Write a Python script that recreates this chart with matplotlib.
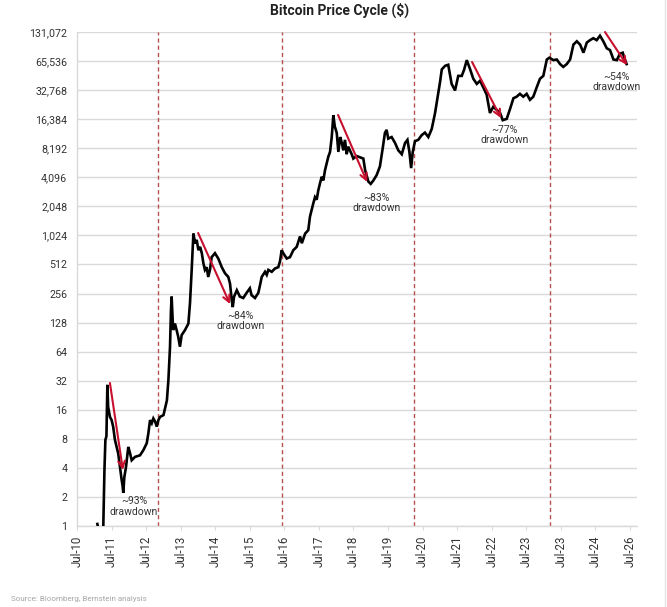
import matplotlib.pyplot as plt
import matplotlib.lines as mlines
from matplotlib.ticker import NullLocator
import pandas as pd

plt.rcParams["font.family"] = ["Roboto", "DejaVu Sans"]

# Bitcoin price ($)
price_dates = [
    "2011-02-01", "2011-02-20", "2011-03-25", "2011-04-05", "2011-04-17",
    "2011-04-27", "2011-05-08", "2011-05-18", "2011-05-26", "2011-06-14",
    "2011-07-02", "2011-07-18", "2011-08-06", "2011-08-24", "2011-09-10",
    "2011-09-28", "2011-10-16", "2011-10-26", "2011-11-02", "2011-11-13",
    "2011-12-01", "2011-12-25", "2012-01-12", "2012-01-30", "2012-03-05",
    "2012-04-27", "2012-06-01", "2012-07-07", "2012-07-24", "2012-08-11",
    "2012-08-29", "2012-09-15", "2012-10-03", "2012-10-21", "2012-11-07",
    "2012-11-25", "2012-12-31", "2013-02-05", "2013-02-21", "2013-03-10",
    "2013-03-20", "2013-03-27", "2013-04-07", "2013-04-13", "2013-05-01",
    "2013-05-19", "2013-06-05", "2013-06-23", "2013-07-11", "2013-08-15",
    "2013-09-20", "2013-10-07", "2013-10-25", "2013-11-12", "2013-11-30",
    "2013-12-17", "2014-01-04", "2014-01-22", "2014-02-09", "2014-02-26",
    "2014-03-14", "2014-04-01", "2014-04-18", "2014-05-06", "2014-05-24",
    "2014-06-28", "2014-08-02", "2014-09-08", "2014-10-12", "2014-11-16",
    "2014-12-04", "2014-12-22", "2015-01-02", "2015-01-16", "2015-02-14",
    "2015-03-18", "2015-04-23", "2015-05-28", "2015-07-02", "2015-07-20",
    "2015-08-25", "2015-09-29", "2015-10-17", "2015-11-04", "2015-12-09",
    "2015-12-27", "2016-01-13", "2016-02-18", "2016-03-23", "2016-04-27",
    "2016-05-15", "2016-06-02", "2016-06-19", "2016-07-25", "2016-08-29",
    "2016-10-03", "2016-11-08", "2016-12-13", "2017-01-01", "2017-02-05",
    "2017-03-10", "2017-03-28", "2017-05-02", "2017-05-20", "2017-06-07",
    "2017-06-24", "2017-07-12", "2017-07-30", "2017-08-16", "2017-09-03",
    "2017-09-21", "2017-10-08", "2017-10-26", "2017-11-13", "2017-11-30",
    "2017-12-15", "2018-01-05", "2018-01-22", "2018-02-10", "2018-02-28",
    "2018-03-15", "2018-04-02", "2018-04-20", "2018-05-06", "2018-06-12",
    "2018-06-29", "2018-08-04", "2018-09-08", "2018-10-13", "2018-11-01",
    "2018-12-05", "2018-12-30", "2019-01-27", "2019-03-02", "2019-04-06",
    "2019-05-05", "2019-05-29", "2019-06-16", "2019-07-03", "2019-08-08",
    "2019-09-13", "2019-10-17", "2019-11-23", "2019-12-28", "2020-01-22",
    "2020-02-12", "2020-03-01", "2020-03-18", "2020-04-11", "2020-05-15",
    "2020-06-21", "2020-07-25", "2020-08-30", "2020-10-05", "2020-11-09",
    "2020-12-14", "2021-01-01", "2021-01-19", "2021-02-23", "2021-03-28",
    "2021-05-03", "2021-06-08", "2021-07-12", "2021-08-18", "2021-09-11",
    "2021-10-10", "2021-11-14", "2021-12-18", "2022-01-24", "2022-02-28",
    "2022-04-02", "2022-05-08", "2022-06-12", "2022-07-17", "2022-08-22",
    "2022-09-27", "2022-10-25", "2022-12-06", "2023-01-11", "2023-02-15",
    "2023-03-21", "2023-04-25", "2023-05-30", "2023-07-05", "2023-08-09",
    "2023-09-13", "2023-10-19", "2023-11-23", "2023-12-28", "2024-02-03",
    "2024-03-01", "2024-04-12", "2024-05-18", "2024-06-22", "2024-07-26",
    "2024-09-01", "2024-10-06", "2024-11-10", "2024-12-16", "2025-01-20",
    "2025-02-24", "2025-04-01", "2025-05-05", "2025-06-08", "2025-07-14",
    "2025-08-18", "2025-09-22", "2025-10-28", "2025-12-02", "2026-01-07",
    "2026-02-12", "2026-03-16", "2026-04-15", "2026-05-08", "2026-05-26",
]
price_values = [
    1.05, 0.85, 0.8, 1.0, 3.8,
    7.8, 8.5, 29, 17.2, 13.5,
    12.5, 10.7, 7.8, 6.6, 5.6,
    4.1, 3.0, 2.6, 2.2, 3.2,
    4.1, 6.6, 5.7, 4.8, 5.2,
    5.4, 6.1, 7.2, 9.1, 12.5,
    11.6, 13, 12.1, 10.7, 12.5,
    13.5, 14.1, 20, 32.6, 72,
    172, 238, 136, 107, 125,
    107, 91, 72, 95, 107,
    125, 203, 450, 1070, 846,
    920, 720, 780, 670, 525,
    450, 480, 380, 450, 610,
    670, 590, 480, 415, 380,
    325, 220, 185, 238, 277,
    238, 230, 260, 290, 246,
    230, 260, 312, 380, 430,
    400, 450, 430, 465, 480,
    550, 720, 670, 590, 610,
    720, 780, 1000, 850, 1070,
    1160, 1600, 2200, 2550, 2400,
    3000, 3550, 4150, 3800, 4850,
    5700, 6700, 7500, 10700, 18000,
    13800, 11800, 7500, 10700, 9300,
    7800, 10000, 7100, 8500, 7100,
    6400, 6800, 6600, 6400, 4850,
    3700, 3500, 3800, 4300, 5300,
    8100, 11800, 12700, 10300, 10700,
    9300, 7800, 7100, 9300, 10000,
    7500, 5100, 7500, 9700, 10000,
    11200, 11900, 10700, 13000, 19000,
    31000, 40000, 53700, 58500, 60000,
    38000, 32500, 46000, 46000, 53000,
    67000, 54000, 43000, 38000, 41000,
    35000, 29500, 19000, 22000, 20500,
    19000, 16000, 16500, 21000, 27000,
    28000, 30000, 28000, 30000, 26000,
    28000, 35000, 43000, 46000, 68000,
    71000, 67000, 68000, 61000, 57000,
    61000, 68000, 97000, 105000, 97000,
    80000, 102000, 108000, 113000, 108000,
    120000, 105000, 89000, 85000, 68000,
    67000, 78000, 80000, 68000, 61000,
]

# halving dates (dashed lines)
halving_dates = ["2012-11-03", "2016-06-05", "2020-04-01", "2024-03-07"]

# drawdown arrows: peak -> trough
peak_dates = ["2011-06-14", "2014-01-01", "2018-01-19", "2021-12-05", "2025-10-10"]
peak_values = [30.3, 1085, 18100, 64100, 131000]
low_dates = ["2011-10-29", "2014-12-04", "2018-11-22", "2022-10-07", "2026-05-30"]
low_values = [3.8, 199, 3660, 16800, 59500]
drawdown_labels = ["~93%\ndrawdown", "~84%\ndrawdown", "~83%\ndrawdown",
                   "~77%\ndrawdown", "~54%\ndrawdown"]
label_dates = ["2012-02-24", "2015-03-28", "2019-03-06", "2022-11-09", "2026-02-06"]
label_values = [2.04, 169, 2820, 14250, 50400]

tick_dates = [f"{y}-07-01" for y in range(2010, 2027)]
tick_labels = ["Jul-10", "Jul-11", "Jul-12", "Jul-13", "Jul-14", "Jul-15",
               "Jul-16", "Jul-17", "Jul-18", "Jul-19", "Jul-20", "Jul-21",
               "Jul-22", "Jul-23", "Jul-23", "Jul-24", "Jul-26"]
y_ticks = [2 ** i for i in range(18)]

red = "#c8102e"
grid_grey = "#d9d9d9"
text_grey = "#333333"

fig = plt.figure(figsize=(6.67, 6.07), dpi=100)
ax = fig.add_axes([77 / 667, 81 / 607, 560 / 667, 494 / 607])

ax.plot(pd.to_datetime(price_dates), price_values, color="black", lw=1.9,
        solid_joinstyle="miter", zorder=3)

for d in halving_dates:
    ax.axvline(pd.Timestamp(d), color="#b5524c", lw=1.0, ls=(0, (3, 2.2)), zorder=2)

for i in range(len(peak_dates)):
    ax.annotate(
        "",
        xy=(pd.Timestamp(low_dates[i]), low_values[i]),
        xytext=(pd.Timestamp(peak_dates[i]), peak_values[i]),
        arrowprops=dict(arrowstyle="->", color=red, lw=1.5,
                        mutation_scale=12, shrinkA=0, shrinkB=0),
        annotation_clip=False,
        zorder=4,
    )
    ax.text(pd.Timestamp(label_dates[i]), label_values[i], drawdown_labels[i],
            ha="center", va="top", fontsize=7.5, color=text_grey,
            linespacing=1.05, zorder=5)

ax.set_yscale("log", base=2)
ax.set_ylim(1, 131072)
ax.set_yticks(y_ticks)
ax.set_yticklabels([f"{v:,}" for v in y_ticks])
ax.yaxis.set_minor_locator(NullLocator())

ax.set_xlim(pd.Timestamp("2010-07-01"), pd.Timestamp("2026-09-13"))
ax.set_xticks(pd.to_datetime(tick_dates))
ax.set_xticklabels(tick_labels, rotation=90)

ax.grid(axis="y", color=grid_grey, lw=1.0)
ax.grid(axis="x", visible=False)
ax.set_axisbelow(True)
for side in ["top", "right"]:
    ax.spines[side].set_visible(False)
for side in ["left", "bottom"]:
    ax.spines[side].set_color(grid_grey)
    ax.spines[side].set_linewidth(1.0)

ax.tick_params(axis="y", length=0, pad=7, labelsize=7.7, labelcolor=text_grey)
ax.tick_params(axis="x", length=3, color=grid_grey, pad=4, labelsize=8.3,
               labelcolor=text_grey)

fig.text(340 / 667, 1 - 10 / 607, "Bitcoin Price Cycle ($)", ha="center",
         va="center", fontsize=10, fontweight="bold", color="#222222")
fig.text(11 / 667, 1 - 599 / 607, "Source: Bloomberg, Bernstein analysis",
         ha="left", va="center", fontsize=5.8, color="#a6a6a6")

# faint frame line on the right edge
fig.add_artist(mlines.Line2D([665 / 667, 665 / 667], [0, 1], color="#e3e3e3",
                             lw=1.0, transform=fig.transFigure))

fig.savefig("out.png", dpi=100)
